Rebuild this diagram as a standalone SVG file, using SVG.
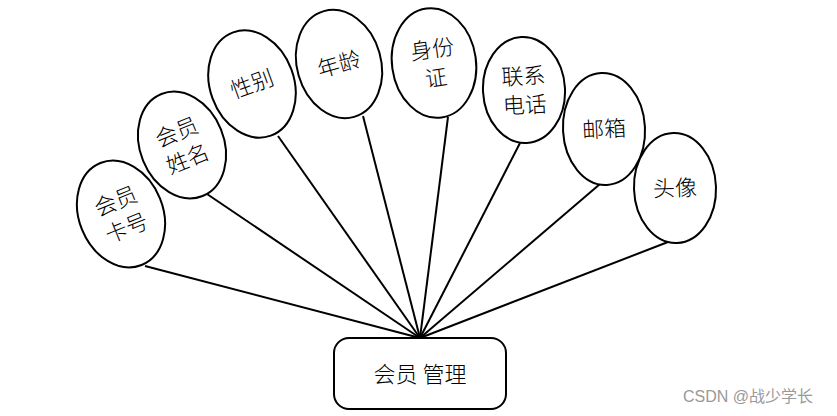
<svg xmlns="http://www.w3.org/2000/svg" width="837" height="416" viewBox="0 0 837 416">
<style>
.n ellipse{fill:#fff;stroke:#000;stroke-width:2}
.n rect{fill:#fff;stroke:#000;stroke-width:2}
.t{font-family:"Noto Sans CJK SC","Noto Sans",sans-serif;font-size:22px;font-weight:300;fill:#000;text-anchor:middle}
#edges line{stroke:#000;stroke-width:2}
.wm{font-family:"Liberation Sans","Noto Sans CJK SC",sans-serif;font-size:16px;fill:#999}
</style>
<g id="edges">
<line x1="145" y1="266" x2="420" y2="338"/>
<line x1="207" y1="194" x2="420" y2="338"/>
<line x1="278" y1="136" x2="420" y2="338"/>
<line x1="363" y1="116" x2="420" y2="338"/>
<line x1="448" y1="117" x2="420" y2="338"/>
<line x1="520" y1="143" x2="420" y2="338"/>
<line x1="600" y1="184" x2="420" y2="338"/>
<line x1="668" y1="242" x2="420" y2="338"/>
</g>
<g id="n1" class="n" transform="translate(121,214) rotate(-22)"><ellipse rx="42" ry="55"/><text class="t" y="-6">会员</text><text class="t" y="23">卡号</text></g>
<g id="n2" class="n" transform="translate(182,145) rotate(-22)"><ellipse rx="42" ry="55"/><text class="t" y="-6">会员</text><text class="t" y="23">姓名</text></g>
<g id="n3" class="n" transform="translate(252,84) rotate(-20)"><ellipse rx="42" ry="55"/><text class="t" y="8">性别</text></g>
<g id="n4" class="n" transform="translate(339,64) rotate(-16)"><ellipse rx="42" ry="55"/><text class="t" y="8">年龄</text></g>
<g id="n5" class="n" transform="translate(434,63) rotate(-8)"><ellipse rx="42" ry="55"/><text class="t" y="-6">身份</text><text class="t" y="23">证</text></g>
<g id="n6" class="n" transform="translate(524,90) rotate(-3)"><ellipse rx="41" ry="53"/><text class="t" y="-6">联系</text><text class="t" y="23">电话</text></g>
<g id="n7" class="n" transform="translate(604,129) rotate(-3)"><ellipse rx="41" ry="56"/><text class="t" y="8">邮箱</text></g>
<g id="n8" class="n" transform="translate(675,188) rotate(-2)"><ellipse rx="41" ry="55"/><text class="t" y="8">头像</text></g>
<g id="center" class="n"><rect x="334" y="338" width="172" height="71" rx="15"/><text class="t" x="420" y="382">会员 管理</text></g>
<text class="wm" x="683" y="402">CSDN @战少学长</text>
</svg>
